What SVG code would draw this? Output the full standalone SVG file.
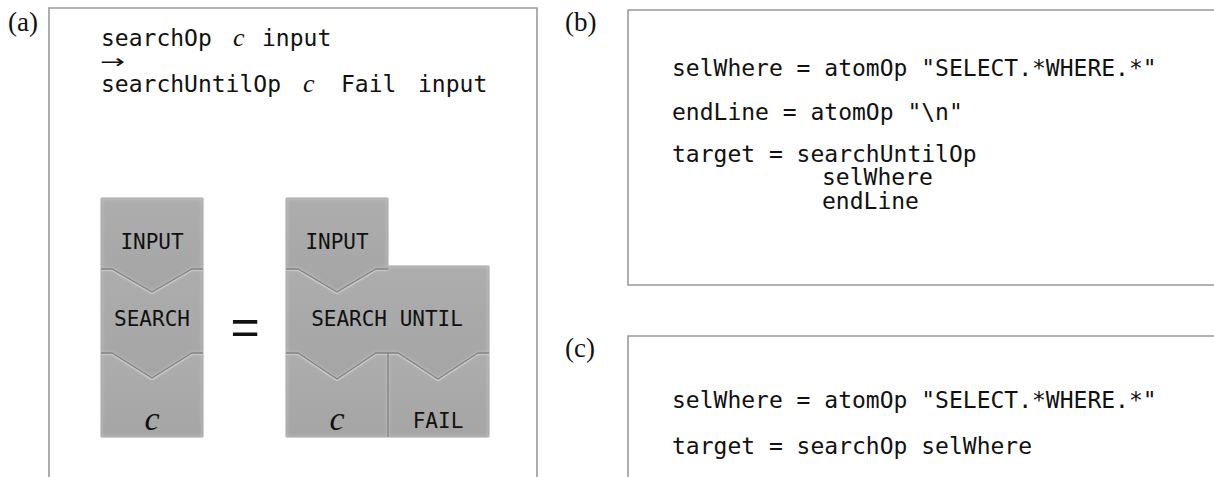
<svg xmlns="http://www.w3.org/2000/svg" width="1214" height="477" viewBox="0 0 1214 477">
  <style>
    .panel { fill: none; stroke: #9a9a9a; stroke-width: 1.6; }
    .lbl { font-family: "Liberation Serif", "Times New Roman", serif; font-size: 27px; fill: #111; }
    .code { font-family: "DejaVu Sans Mono", "Liberation Mono", monospace; font-size: 23px; fill: #111; white-space: pre; }
    .var { font-family: "Liberation Serif", "Times New Roman", serif; font-style: italic; font-size: 26px; fill: #111; }
    .block { fill: url(#blockFill); stroke: #8a8a8a; stroke-width: 1; filter: url(#bevel); }
    .btxt { font-family: "DejaVu Sans Mono", "Liberation Mono", monospace; font-size: 21px; fill: #111; text-anchor: middle; }
    .bvar { font-family: "Liberation Serif", "Times New Roman", serif; font-style: italic; font-size: 34px; fill: #111; text-anchor: middle; }
    .groove { fill: none; stroke: #858585; stroke-width: 1.3; }
    .ridge { fill: none; stroke: #c9c9c9; stroke-width: 1.2; }
  </style>
  <defs>
    <linearGradient id="blockFill" x1="0" y1="0" x2="0" y2="1">
      <stop offset="0" stop-color="#adadad"/>
      <stop offset="1" stop-color="#a5a5a5"/>
    </linearGradient>
    <!-- soft light rim along the inside of each block -->
    <filter id="bevel" x="-5%" y="-5%" width="110%" height="110%">
      <feGaussianBlur in="SourceAlpha" stdDeviation="2" result="blur"/>
      <feComposite in="SourceAlpha" in2="blur" operator="out" result="rim"/>
      <feFlood flood-color="#ffffff" flood-opacity="0.45"/>
      <feComposite in2="rim" operator="in" result="glow"/>
      <feMerge>
        <feMergeNode in="SourceGraphic"/>
        <feMergeNode in="glow"/>
      </feMerge>
    </filter>
  </defs>

  <!-- panel frames -->
  <g id="panel-a">
    <text class="lbl" x="8" y="31">(a)</text>
    <path class="panel" d="M49,480 V8 H537 V480"/>
  </g>
  <g id="panel-b">
    <text class="lbl" x="565" y="31">(b)</text>
    <path class="panel" d="M1216,10 H628 V285 H1216"/>
  </g>
  <g id="panel-c">
    <text class="lbl" x="565" y="357">(c)</text>
    <path class="panel" d="M1216,336 H628 V480"/>
  </g>

  <!-- rewrite rule in (a) -->
  <g id="rule">
    <text class="code" x="101" y="46">searchOp</text>
    <text class="var" x="233" y="46">c</text>
    <text class="code" x="262" y="46">input</text>
    <text x="100" y="68" font-family="'DejaVu Sans', sans-serif" font-size="19" fill="#111" textLength="25" lengthAdjust="spacingAndGlyphs">→</text>
    <text class="code" x="101" y="92">searchUntilOp</text>
    <text class="var" x="303" y="92">c</text>
    <text class="code" x="341" y="92">Fail</text>
    <text class="code" x="418" y="92">input</text>
  </g>

  <!-- left stack: INPUT / SEARCH / c -->
  <g id="l-input">
    <path class="block" d="M101,198 H203 V269 H192 L152,292 L112,269 H101 Z"/>
    <text class="btxt" x="152" y="249">INPUT</text>
  </g>
  <g id="l-search">
    <path class="block" d="M101,269 H112 L152,292 L192,269 H203 V353 H192 L152,378 L112,353 H101 Z"/>
    <text class="btxt" x="152" y="326">SEARCH</text>
  </g>
  <g id="l-c">
    <path class="block" d="M101,353 H112 L152,378 L192,353 H203 V437 H101 Z"/>
    <text class="bvar" x="152" y="430">c</text>
  </g>

  <text id="equals" x="245" y="344" font-family="'Liberation Sans', Arial, sans-serif" font-size="50" fill="#111" text-anchor="middle">=</text>

  <!-- right assembly: INPUT / SEARCH UNTIL / c, FAIL -->
  <g id="r-input">
    <path class="block" d="M286,198 H388 V269 H376 L337,292 L298,269 H286 Z"/>
    <text class="btxt" x="337" y="249">INPUT</text>
  </g>
  <g id="r-searchuntil">
    <path class="block" d="M286,269 H298 L337,292 L376,269 H388 V266 H489 V353 H478 L438,379 L398,353 H376 L337,379 L298,353 H286 Z"/>
    <text class="btxt" x="387" y="326">SEARCH UNTIL</text>
  </g>
  <g id="r-c">
    <path class="block" d="M286,353 H298 L337,379 L376,353 H388 V437 H286 Z"/>
    <text class="bvar" x="337" y="430">c</text>
  </g>
  <g id="r-fail">
    <path class="block" d="M388,353 H398 L438,379 L478,353 H489 V437 H388 Z"/>
    <text class="btxt" x="438" y="428">FAIL</text>
  </g>

  <!-- grooves where blocks slot into each other -->
  <g id="connectors">
    <polyline class="groove" points="101,269 112,269 152,292 192,269 203,269"/>
    <polyline class="ridge" points="101,270.5 112,270.5 152,293.8 192,270.5 203,270.5"/>
    <polyline class="groove" points="101,353 112,353 152,378 192,353 203,353"/>
    <polyline class="ridge" points="101,354.5 112,354.5 152,379.8 192,354.5 203,354.5"/>
    <polyline class="groove" points="286,269 298,269 337,292 376,269 388,269"/>
    <polyline class="ridge" points="286,270.5 298,270.5 337,293.8 376,270.5 388,270.5"/>
    <polyline class="groove" points="286,353 298,353 337,379 376,353 398,353 438,379 478,353 489,353"/>
    <polyline class="ridge" points="286,354.5 298,354.5 337,380.8 376,354.5 398,354.5 438,380.8 478,354.5 489,354.5"/>
    <line class="groove" x1="388" y1="353" x2="388" y2="437"/>
  </g>

  <!-- code in (b) -->
  <g id="code-b">
    <text class="code" x="672" y="76">selWhere = atomOp "SELECT.*WHERE.*"</text>
    <text class="code" x="672" y="120">endLine = atomOp "\n"</text>
    <text class="code" x="672" y="162">target = searchUntilOp</text>
    <text class="code" x="822" y="185">selWhere</text>
    <text class="code" x="822" y="209">endLine</text>
  </g>

  <!-- code in (c) -->
  <g id="code-c">
    <text class="code" x="672" y="408">selWhere = atomOp "SELECT.*WHERE.*"</text>
    <text class="code" x="672" y="454">target = searchOp selWhere</text>
  </g>
</svg>
